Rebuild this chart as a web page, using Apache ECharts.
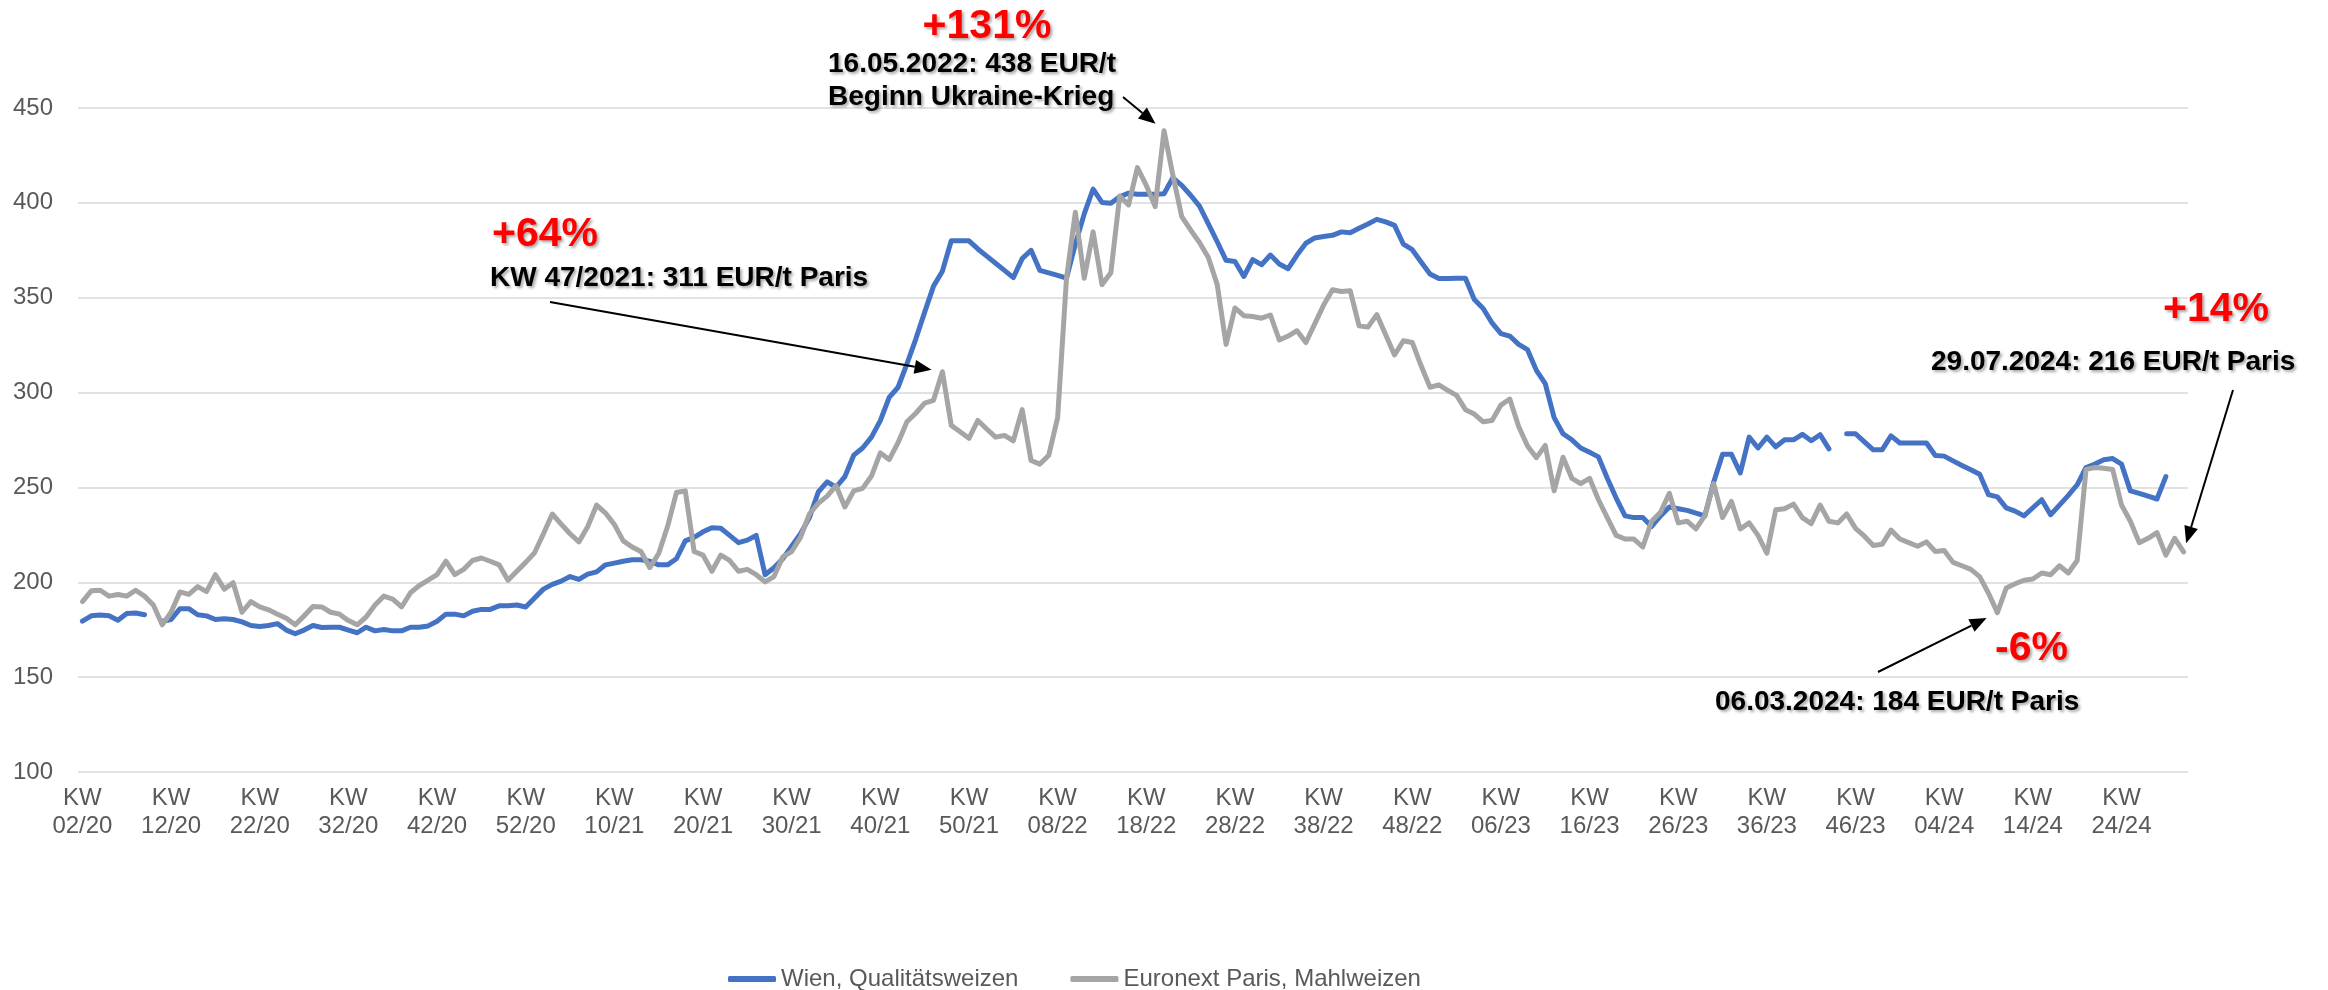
<!DOCTYPE html>
<html>
<head>
<meta charset="utf-8">
<script src="https://cdn.jsdelivr.net/npm/echarts@6/dist/echarts.min.js"></script>
<style>
  html, body { margin: 0; padding: 0; background: #ffffff; }
  #chart { width: 2328px; height: 990px; }
</style>
</head>
<body>
<div id="chart"></div>
<script>
// Calendar weeks (KW) from 02/2020 to 31/2024
const weeks = [
  'KW 02/20','KW 03/20','KW 04/20','KW 05/20','KW 06/20','KW 07/20','KW 08/20','KW 09/20','KW 10/20','KW 11/20',
  'KW 12/20','KW 13/20','KW 14/20','KW 15/20','KW 16/20','KW 17/20','KW 18/20','KW 19/20','KW 20/20','KW 21/20',
  'KW 22/20','KW 23/20','KW 24/20','KW 25/20','KW 26/20','KW 27/20','KW 28/20','KW 29/20','KW 30/20','KW 31/20',
  'KW 32/20','KW 33/20','KW 34/20','KW 35/20','KW 36/20','KW 37/20','KW 38/20','KW 39/20','KW 40/20','KW 41/20',
  'KW 42/20','KW 43/20','KW 44/20','KW 45/20','KW 46/20','KW 47/20','KW 48/20','KW 49/20','KW 50/20','KW 51/20',
  'KW 52/20',
  'KW 01/21','KW 02/21','KW 03/21','KW 04/21','KW 05/21','KW 06/21','KW 07/21','KW 08/21','KW 09/21','KW 10/21',
  'KW 11/21','KW 12/21','KW 13/21','KW 14/21','KW 15/21','KW 16/21','KW 17/21','KW 18/21','KW 19/21','KW 20/21',
  'KW 21/21','KW 22/21','KW 23/21','KW 24/21','KW 25/21','KW 26/21','KW 27/21','KW 28/21','KW 29/21','KW 30/21',
  'KW 31/21','KW 32/21','KW 33/21','KW 34/21','KW 35/21','KW 36/21','KW 37/21','KW 38/21','KW 39/21','KW 40/21',
  'KW 41/21','KW 42/21','KW 43/21','KW 44/21','KW 45/21','KW 46/21','KW 47/21','KW 48/21','KW 49/21','KW 50/21',
  'KW 51/21','KW 52/21',
  'KW 01/22','KW 02/22','KW 03/22','KW 04/22','KW 05/22','KW 06/22','KW 07/22','KW 08/22','KW 09/22','KW 10/22',
  'KW 11/22','KW 12/22','KW 13/22','KW 14/22','KW 15/22','KW 16/22','KW 17/22','KW 18/22','KW 19/22','KW 20/22',
  'KW 21/22','KW 22/22','KW 23/22','KW 24/22','KW 25/22','KW 26/22','KW 27/22','KW 28/22','KW 29/22','KW 30/22',
  'KW 31/22','KW 32/22','KW 33/22','KW 34/22','KW 35/22','KW 36/22','KW 37/22','KW 38/22','KW 39/22','KW 40/22',
  'KW 41/22','KW 42/22','KW 43/22','KW 44/22','KW 45/22','KW 46/22','KW 47/22','KW 48/22','KW 49/22','KW 50/22',
  'KW 51/22','KW 52/22',
  'KW 01/23','KW 02/23','KW 03/23','KW 04/23','KW 05/23','KW 06/23','KW 07/23','KW 08/23','KW 09/23','KW 10/23',
  'KW 11/23','KW 12/23','KW 13/23','KW 14/23','KW 15/23','KW 16/23','KW 17/23','KW 18/23','KW 19/23','KW 20/23',
  'KW 21/23','KW 22/23','KW 23/23','KW 24/23','KW 25/23','KW 26/23','KW 27/23','KW 28/23','KW 29/23','KW 30/23',
  'KW 31/23','KW 32/23','KW 33/23','KW 34/23','KW 35/23','KW 36/23','KW 37/23','KW 38/23','KW 39/23','KW 40/23',
  'KW 41/23','KW 42/23','KW 43/23','KW 44/23','KW 45/23','KW 46/23','KW 47/23','KW 48/23','KW 49/23','KW 50/23',
  'KW 51/23','KW 52/23',
  'KW 01/24','KW 02/24','KW 03/24','KW 04/24','KW 05/24','KW 06/24','KW 07/24','KW 08/24','KW 09/24','KW 10/24',
  'KW 11/24','KW 12/24','KW 13/24','KW 14/24','KW 15/24','KW 16/24','KW 17/24','KW 18/24','KW 19/24','KW 20/24',
  'KW 21/24','KW 22/24','KW 23/24','KW 24/24','KW 25/24','KW 26/24','KW 27/24','KW 28/24','KW 29/24','KW 30/24',
  'KW 31/24'
];

// Wien, Qualitätsweizen (EUR/t); null = no quotation that week
const wien = [
  179.5,182.3,182.7,182.3,180.0,183.6,183.8,182.9,null,179.5,
  180.4,186.1,186.1,182.9,182.3,180.4,180.8,180.4,179.1,177.2,
  176.7,177.2,178.2,174.8,172.9,174.8,177.2,176.2,176.3,176.3,
  174.8,173.4,176.3,174.4,175.1,174.4,174.4,176.3,176.3,177.0,
  179.5,183.2,183.2,182.3,184.7,185.7,185.7,187.6,187.6,188.0,
  187.0,191.7,196.4,198.9,200.6,203.0,201.5,204.3,205.5,209.2,
  210.1,211.1,211.9,211.9,211.1,209.2,209.2,212.4,221.8,223.7,
  226.6,228.8,228.5,224.7,220.9,222.2,224.7,204.0,207.7,212.4,
  219.0,225.6,234.1,247.6,252.9,250.1,255.7,267.0,270.8,276.5,
  285.2,297.5,302.8,315.1,328.2,342.4,356.1,364.0,380.0,380.0,
  380.0,375.7,371.9,368.2,364.4,360.6,370.6,375.0,364.4,363.1,
  361.8,360.3,378.2,394.2,407.3,400.2,399.8,403.2,405.1,404.5,
  404.5,404.5,404.8,413.2,409.2,404.0,398.3,388.9,379.5,369.7,
  369.1,361.2,370.1,367.4,372.5,367.8,365.3,372.5,378.7,381.5,
  382.3,382.9,384.7,384.2,386.6,388.9,391.3,390.0,388.1,378.2,
  375.3,368.8,362.5,360.1,360.1,360.3,360.3,349.0,344.3,336.7,
  331.1,329.8,325.4,322.6,311.7,304.7,286.8,278.3,275.1,270.8,
  268.5,266.1,254.8,244.4,235.0,234.1,234.1,229.4,235.0,239.7,
  238.8,237.9,236.5,235.0,252.9,267.5,267.5,257.6,276.5,270.8,
  276.5,271.4,275.1,275.1,278.0,274.6,277.8,270.3,null,278.3,
  278.3,274.0,269.8,269.8,277.2,273.4,273.4,273.4,273.4,266.8,
  266.5,264.0,261.6,259.3,256.9,246.2,245.0,239.2,237.5,235.0,
  239.3,243.5,235.6,240.7,245.8,251.4,260.5,262.3,264.6,265.2,
  262.3,248.2,246.9,245.4,243.9,255.7,null,null
];

// Euronext Paris, Mahlweizen (EUR/t)
const paris = [
  189.8,195.5,195.8,192.7,193.6,192.7,195.8,192.7,188.0,177.6,
  184.2,194.9,193.6,197.7,195.1,204.0,196.4,199.8,184.2,189.8,
  187.0,185.5,183.2,181.0,177.6,182.3,187.2,187.0,184.2,183.2,
  179.8,177.6,181.7,188.0,192.7,191.1,187.0,194.5,198.3,201.1,
  204.0,211.1,204.0,206.8,211.5,212.8,211.1,209.2,201.1,205.8,
  210.5,215.6,225.6,236.0,230.7,225.6,221.3,229.4,240.7,236.5,
  230.5,221.8,218.6,216.2,207.7,215.2,229.4,247.3,248.2,216.2,
  214.3,205.8,214.3,211.5,205.8,206.8,204.0,200.2,203.0,213.4,
  216.2,223.7,236.0,241.6,245.4,251.0,239.7,248.2,249.5,256.0,
  268.2,264.7,273.6,284.6,289.1,294.4,295.9,311.0,282.7,279.3,
  275.9,285.3,280.8,276.5,277.4,274.6,291.0,264.2,262.3,267.0,
  286.8,360.3,395.1,360.3,384.7,356.9,363.1,403.6,398.9,418.6,
  409.2,398.0,438.0,414.5,392.7,385.7,379.1,371.2,356.9,325.4,
  344.6,340.5,340.1,339.2,340.9,327.7,329.8,332.6,326.4,336.2,
  346.1,354.2,353.3,353.7,335.2,334.5,341.1,330.5,319.8,327.3,
  326.4,314.1,302.8,304.1,301.2,298.5,291.0,288.7,284.6,285.3,
  293.4,296.6,282.1,271.8,265.7,272.1,248.2,265.9,254.8,252.0,
  254.8,243.5,234.1,224.7,222.8,222.8,218.6,232.2,236.9,246.9,
  231.3,232.2,228.1,235.1,252.0,234.1,242.6,228.1,231.3,224.7,
  215.3,238.2,238.8,241.2,234.1,230.9,240.7,232.2,231.3,236.0,
  228.4,224.3,219.4,220.0,227.5,222.8,220.9,219.0,221.3,216.2,
  216.8,210.5,208.7,206.8,203.0,194.2,184.0,197.0,199.2,201.1,
  201.7,204.9,204.0,208.7,204.9,211.5,259.5,260.5,260.1,259.5,
  240.7,232.2,220.9,223.2,226.2,214.3,223.2,216.0
];

// Value axis ticks (EUR/t)
const yTicks = [100, 150, 200, 250, 300, 350, 400, 450];

const seriesNames = ['Wien, Qualitätsweizen', 'Euronext Paris, Mahlweizen'];

// Annotated Paris quotations: change in percent, caption lines, week
const notePct   = ['+131%', '+64%', '+14%', '-6%'];
const noteLines = [
  ['16.05.2022: 438 EUR/t', 'Beginn Ukraine-Krieg'],
  ['KW 47/2021: 311 EUR/t Paris'],
  ['29.07.2024: 216 EUR/t Paris'],
  ['06.03.2024: 184 EUR/t Paris']
];
const noteWeek  = ['KW 20/22', 'KW 47/21', 'KW 31/24', 'KW 10/24'];

const FONT = '"Liberation Sans", Arial, Helvetica, sans-serif';
const GREY_TEXT = '#595959';

const chart = echarts.init(document.getElementById('chart'), null, { renderer: 'canvas' });

chart.setOption({
  animation: false,
  backgroundColor: '#ffffff',
  textStyle: { fontFamily: FONT },
  grid: { left: 78, right: 140, top: 108, bottom: 218, containLabel: false },
  xAxis: {
    type: 'category',
    data: weeks,
    boundaryGap: true,
    axisLine: { show: false },
    axisTick: { show: false },
    splitLine: { show: false },
    axisLabel: {
      interval: 9,
      margin: 12,
      color: GREY_TEXT,
      fontSize: 24,
      lineHeight: 28,
      fontFamily: FONT,
      formatter: v => v.replace(' ', '\n')
    }
  },
  yAxis: {
    type: 'value',
    min: yTicks[0],
    max: yTicks[yTicks.length - 1],
    interval: yTicks[1] - yTicks[0],
    axisLine: { show: false },
    axisTick: { show: false },
    axisLabel: { color: GREY_TEXT, fontSize: 24, margin: 25, fontFamily: FONT },
    splitLine: { lineStyle: { color: '#d9d9d9', width: 1.5 } }
  },
  legend: {
    data: seriesNames,
    left: 723,
    top: 962,
    icon: 'roundRect',
    itemWidth: 48,
    itemHeight: 6,
    itemGap: 52,
    textStyle: { color: GREY_TEXT, fontSize: 24, fontFamily: FONT }
  },
  series: [
    {
      name: seriesNames[0],
      type: 'line',
      data: wien,
      showSymbol: false,
      symbol: 'none',
      connectNulls: false,
      itemStyle: { color: '#4472C4' },
      lineStyle: { color: '#4472C4', width: 5, cap: 'round', join: 'round' },
      z: 2
    },
    {
      name: seriesNames[1],
      type: 'line',
      data: paris,
      showSymbol: false,
      symbol: 'none',
      connectNulls: false,
      itemStyle: { color: '#A5A5A5' },
      lineStyle: { color: '#A5A5A5', width: 5, cap: 'round', join: 'round' },
      z: 3
    }
  ]
});

// ---- annotations: percent badge, caption and an arrow onto the Paris quotation ----
const shadow = {
  textShadowColor: 'rgba(0,0,0,0.35)',
  textShadowBlur: 3,
  textShadowOffsetX: 2,
  textShadowOffsetY: 2
};

function label(text, x, y, size, color, align) {
  return {
    type: 'text',
    x: x, y: y, z: 100,
    style: Object.assign({
      text: text,
      fill: color,
      font: 'bold ' + size + 'px ' + FONT,
      align: align, textAlign: align,
      verticalAlign: 'middle', textVerticalAlign: 'middle'
    }, shadow)
  };
}

function arrow(tail, week, gap) {
  const i = weeks.indexOf(week);
  const p = chart.convertToPixel({ xAxisIndex: 0, yAxisIndex: 0 }, [i, paris[i]]);
  const dx = tail[0] - p[0], dy = tail[1] - p[1];
  const L = Math.hypot(dx, dy);
  const ux = dx / L, uy = dy / L;
  const tip = [p[0] + ux * gap, p[1] + uy * gap];
  const headLen = 17, headHalf = 7;
  const base = [tip[0] + ux * headLen, tip[1] + uy * headLen];
  const nx = -uy, ny = ux;
  return [
    { type: 'line', z: 100,
      shape: { x1: tail[0], y1: tail[1], x2: base[0], y2: base[1] },
      style: { stroke: '#000000', lineWidth: 2 } },
    { type: 'polygon', z: 100,
      shape: { points: [tip,
        [base[0] + nx * headHalf, base[1] + ny * headHalf],
        [base[0] - nx * headHalf, base[1] - ny * headHalf]] },
      style: { fill: '#000000' } }
  ];
}

// layout of each note: badge, caption lines, arrow tail
const RED = '#ff0000';
const graphics = [];
// Ukraine war peak
graphics.push(label(notePct[0], 987, 27, 41, RED, 'center'));
graphics.push(label(noteLines[0][0], 828, 64, 28, '#000000', 'left'));
graphics.push(label(noteLines[0][1], 828, 97, 28, '#000000', 'left'));
graphics.push(...arrow([1123, 97], noteWeek[0], 11));
// KW 47/2021
graphics.push(label(notePct[1], 492, 235, 41, RED, 'left'));
graphics.push(label(noteLines[1][0], 490, 278, 28, '#000000', 'left'));
graphics.push(...arrow([550, 302], noteWeek[1], 11));
// latest quotation
graphics.push(label(notePct[2], 2163, 310, 41, RED, 'left'));
graphics.push(label(noteLines[2][0], 1931, 362, 28, '#000000', 'left'));
graphics.push(...arrow([2233, 390], noteWeek[2], 9));
// March 2024 low
graphics.push(label(notePct[3], 1995, 649, 41, RED, 'left'));
graphics.push(label(noteLines[3][0], 1715, 702, 28, '#000000', 'left'));
graphics.push(...arrow([1878, 672], noteWeek[3], 12));

chart.setOption({ graphic: graphics });
</script>
</body>
</html>
